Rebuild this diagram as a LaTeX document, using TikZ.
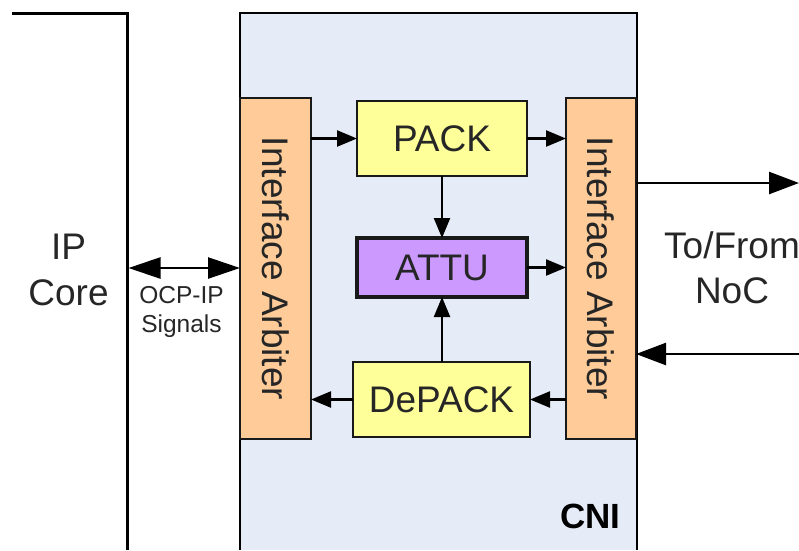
\documentclass[tikz,border=0pt]{standalone}
\usepackage{fontspec}
\setmainfont{Liberation Sans}
\usetikzlibrary{arrows.meta}
\definecolor{cnibg}{HTML}{E6ECF7}
\definecolor{peach}{HTML}{FFCC99}
\definecolor{lyel}{HTML}{FFFF99}
\definecolor{lpur}{HTML}{CC99FF}
\begin{document}
\begin{tikzpicture}[x=1pt,y=-1pt,
  big/.style={font=\fontsize{37}{44}\selectfont,inner sep=0pt,text=black!85},
  small/.style={font=\fontsize{24.5}{29}\selectfont,inner sep=0pt,text=black!85},
  box/.style={draw=black!90,line width=1.5pt,inner sep=0pt,outer sep=0pt,big},
  arb/.style={box,fill=peach,minimum width=71pt,minimum height=341pt},
  blk/.style={box,fill=lyel,minimum height=75pt},
  sarrow/.style={line width=2.3pt,-{Triangle[length=20pt,width=16pt]}},
  barrow/.style={line width=2.5pt,-{Triangle[length=30pt,width=22pt]}},
  darrow/.style={line width=2.5pt,{Triangle[length=32pt,width=21pt]}-{Triangle[length=32pt,width=21pt]}},
]
\useasboundingbox (0,0) rectangle (799,550);
% CNI frame
\fill[cnibg] (240,13) rectangle (637,550);
\draw[line width=1.8pt] (240,550) -- (240,13) -- (637,13) -- (637,550);
% IP core outline
\coordinate (ipa) at (12,13);
\coordinate (ipb) at (127,13);
\coordinate (ipc) at (127,550);
\draw[line width=3pt] (ipa) -- (ipb) -- (ipc);
% blocks
\node[arb] (la) at (275.5,268.5) {};
\node[arb,minimum width=70pt] (ra) at (601,268.5) {};
\node[big,rotate=-90] (lat) at (la.center) {Interface Arbiter};
\node[big,rotate=-90] (rat) at (ra.center) {Interface Arbiter};
\node[blk,minimum width=170pt] (pack) at (442,138.5) {PACK};
\node[box,fill=lpur,line width=4.5pt,minimum width=170pt,minimum height=59pt] (attu) at (442,267.5) {ATTU};
\node[blk,minimum width=177pt] (depack) at (441.5,399.5) {DePACK};
% labels
\node[big,anchor=base] (ip) at (68.5,259) {IP};
\node[big,anchor=base] (core) at (68.5,305) {Core};
\node[big,anchor=base] (tofrom) at (732,258) {To/From};
\node[big,anchor=base] (noc) at (732,303) {NoC};
\node[small,anchor=base] (ocp) at (181.5,303) {OCP-IP};
\node[small,anchor=base] (sig) at (181.5,332) {Signals};
\node[font=\fontsize{35}{42}\selectfont\bfseries,inner sep=0pt,anchor=base] (cni) at (590.5,528) {CNI};
% connectors
\coordinate (ipport) at (128.5,268);
\draw[darrow] (ipport) -- (la.west |- ipport);
\draw[sarrow] (la.east |- pack.west) -- (pack.west);
\draw[sarrow] (pack.east) -- (ra.west |- pack.east);
\draw[sarrow] (pack.south) -- (attu.north);
\draw[sarrow] (attu.east) -- (ra.west |- attu.east);
\draw[sarrow] (depack.north -| attu.south) -- (attu.south);
\draw[sarrow] (ra.west |- depack.east) -- (depack.east);
\draw[sarrow] (depack.west) -- (la.east |- depack.west);
\coordinate (noco) at (799,183);
\coordinate (noci) at (799,354);
\draw[barrow] (ra.east |- noco) -- (noco);
\draw[barrow] (noci) -- (ra.east |- noci);
\end{tikzpicture}
\end{document}
